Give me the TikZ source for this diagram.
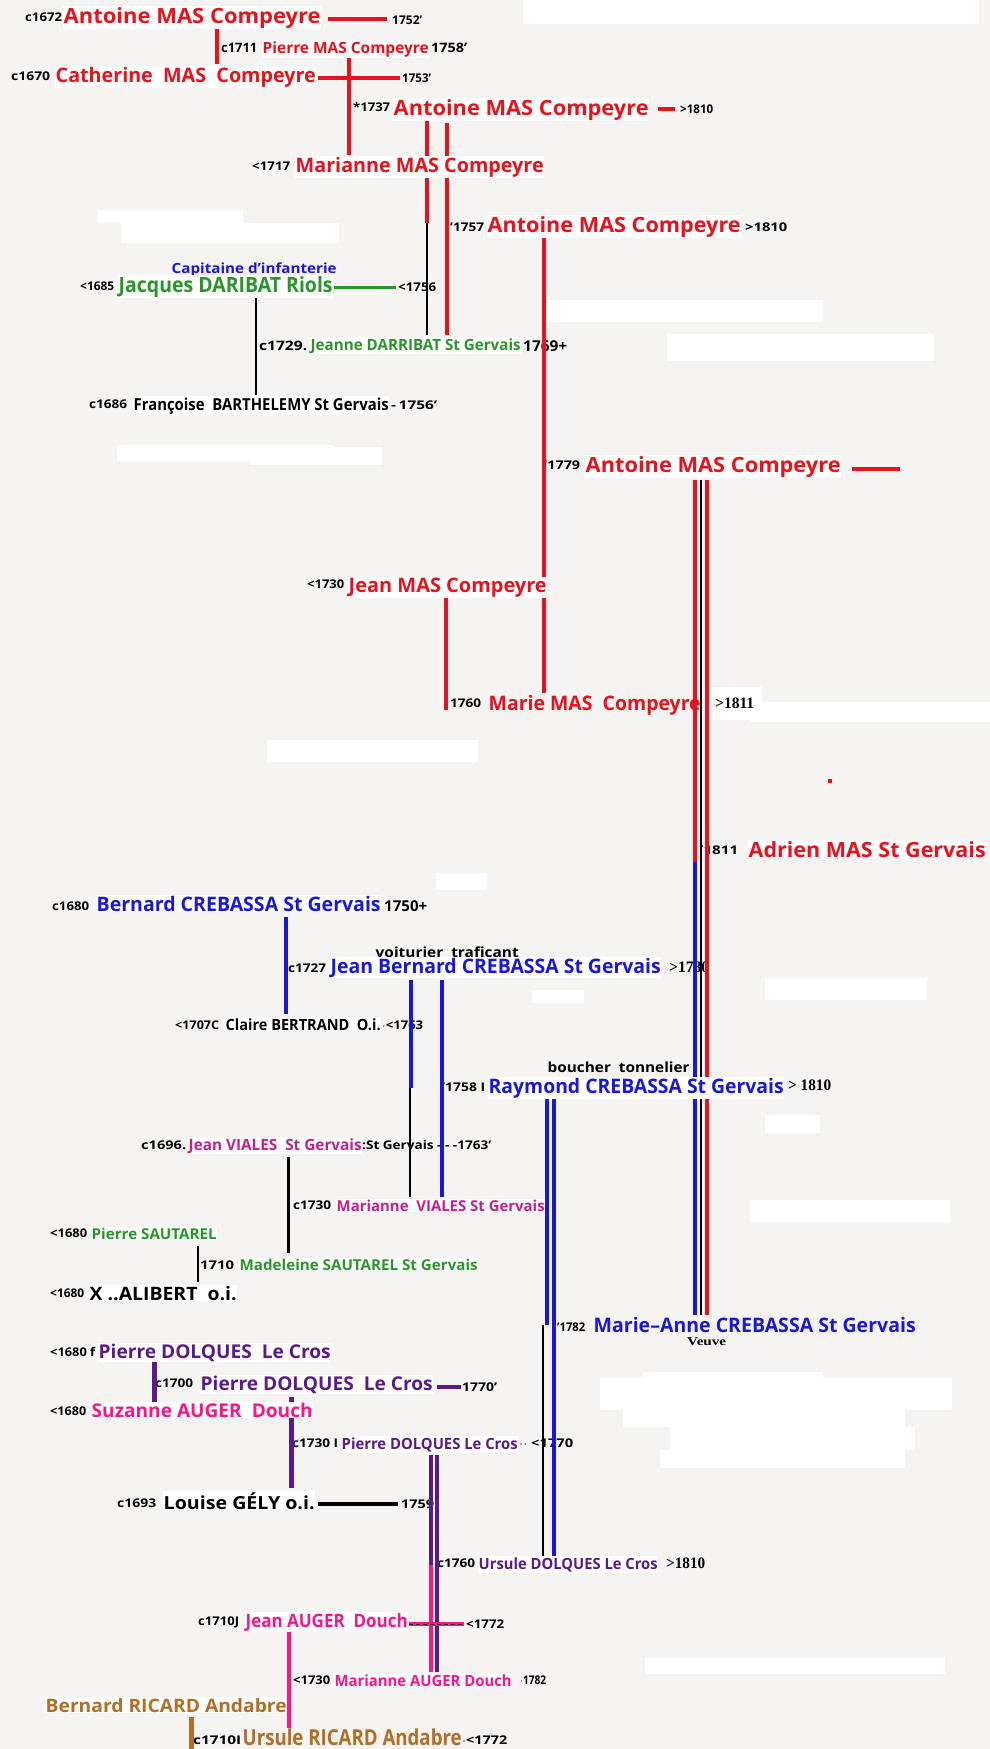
\documentclass[tikz,border=0pt]{standalone}
\usepackage{fontspec}
\usepackage{graphicx}
\setmainfont{Open Sans}
\newfontfamily\serif{Liberation Serif}
\definecolor{cred}{RGB}{232,18,28}
\definecolor{cblue}{RGB}{24,24,220}
\definecolor{cgreen}{RGB}{40,150,40}
\definecolor{cmag}{RGB}{200,30,140}
\definecolor{cpur}{RGB}{90,25,140}
\definecolor{cpink}{RGB}{250,20,135}
\definecolor{cbrown}{RGB}{180,110,35}
\definecolor{bgc}{RGB}{246,243,243}
\tikzset{
  nmst/.style={anchor=base west, inner xsep=0.5pt, inner ysep=1pt, fill=white},
  dtst/.style={anchor=west, inner sep=0pt, text=black},
  redl/.style={draw=cred, line width=4pt},
  redm/.style={draw=cred, line width=3.5pt},
  blkthin/.style={draw=black, line width=1.3pt},
  blkl/.style={draw=black, line width=2.5pt},
  bluel/.style={draw=cblue, line width=4.5pt},
  purl/.style={draw=cpur, line width=5pt},
  pinkl/.style={draw=cpink, line width=3.5pt},
  greenl/.style={draw=cgreen, line width=3pt},
  brownl/.style={draw=cbrown, line width=5pt},
}
% name node: name, x, baseline, width, size, options, text
\newcommand\NM[7]{\node[nmst,#6,font=\fontsize{#5}{#5}\selectfont\bfseries] (#1) at (#2,#3) {\resizebox{#4pt}{\height}{#7}};}
% date node: name, x, centre y, width, size, text
\newcommand\DT[6]{\node[dtst,font=\fontsize{#5}{#5}\selectfont\bfseries] (#1) at (#2,#3) {\resizebox{#4pt}{\height}{#6}};}
\newcommand\SR[6]{\node[dtst,font=\fontsize{#5}{#5}\serif\bfseries] (#1) at (#2,#3) {\resizebox{#4pt}{\height}{#6}};}
% vertical line: name, style, x, y1, y2
\newcommand\VL[5]{\coordinate (#1a) at (#3,#4); \coordinate (#1b) at (#3,#5); \draw[#2] (#1a) -- (#1b);}
% horizontal line: name, style, y, x1, x2
\newcommand\HL[5]{\coordinate (#1a) at (#4,#3); \coordinate (#1b) at (#5,#3); \draw[#2] (#1a) -- (#1b);}
\begin{document}
\begin{tikzpicture}[x=1pt,y=-1pt]
\useasboundingbox (0,0) rectangle (990,1749);
\fill[bgc] (0,0) rectangle (990,1749);
% white patches of the scan
\foreach \a/\b/\c/\d in {523/0/979/24, 98/210/243/223, 121/223/339/243, 545/300/823/322,
  667/334/934/361, 117/445/334/461, 250/447/382/465, 267/740/478/762, 712/687/762/720,
  750/702/990/722, 436/873/487/890, 765/978/927/1000, 532/990/584/1003, 765/1115/820/1133,
  750/1200/950/1223, 643/1372/822/1387, 600/1377/952/1410, 623/1410/905/1427,
  670/1427/915/1450, 660/1450/905/1468, 645/1657/945/1674}
  \fill[white] (\a,\b) rectangle (\c,\d);
\fill[cred] (828,779) rectangle (832,783);

% ---------- dates ----------
\DT{d1}{25}{17}{37}{12}{c1672}
\DT{d2}{392}{20}{30}{12}{1752'}
\DT{d3}{221}{48}{36}{13}{c1711}
\DT{d4}{431}{48}{36}{13}{1758'}
\DT{d5}{11}{76}{39}{12}{c1670}
\DT{d6}{402}{78}{29}{12}{1753'}
\DT{d7}{353}{107}{37}{12}{*1737}
\DT{d8}{680}{109}{33}{12}{>1810}
\DT{d9}{252}{166}{38}{12}{<1717}
\DT{d10}{450}{227}{34}{12}{'1757}
\DT{d11}{745}{227}{42}{12}{>1810}
\DT{d12}{80}{286}{34}{12}{<1685}
\DT{d13}{398}{287}{38}{12}{<1756}
\DT{d14}{259}{346}{48}{13}{c1729.}
\DT{d15}{523}{346}{44}{15}{1769+}
\DT{d16}{89}{404}{38}{12}{c1686}
\DT{d17}{391}{405}{46}{12}{-\,1756'}
\DT{d18}{544}{465}{36}{12}{'1779}
\DT{d19}{307}{584}{37}{12}{<1730}
\DT{d20}{450}{703}{31}{12}{1760}
\SR{d21}{715}{703}{39}{16}{>1811}
\DT{d22}{700}{850}{38}{12}{'1811}
\DT{d23}{52}{906}{37}{12}{c1680}
\DT{d24}{384}{906}{43}{15}{1750+}
\DT{d25}{288}{968}{38}{12}{c1727}
\SR{d26}{669}{967}{40}{16}{>1780}
\DT{d27}{175}{1025}{44}{12}{<1707C}
\DT{d28}{382}{1025}{41}{12}{$\cdot$<1763}
\DT{d29}{442}{1087}{43}{12}{'1758 I}
\SR{d30}{788}{1085}{43}{16}{> 1810}
\DT{d31}{141}{1145}{45}{12}{c1696.}
\DT{d32}{362}{1145}{129}{12}{:St Gervais - - -1763'}
\DT{d33}{293}{1205}{38}{12}{c1730}
\DT{d34}{50}{1233}{37}{12}{<1680}
\DT{d35}{200}{1265}{34}{12}{1710}
\DT{d36}{50}{1293}{34}{12}{<1680}
\DT{d53}{557}{1327}{28}{12}{'1782}
\DT{d37}{50}{1352}{45}{12}{<1680 f}
\DT{d38}{155}{1383}{38}{12}{c1700}
\DT{d39}{462}{1387}{35}{12}{1770'}
\DT{d40}{50}{1411}{36}{12}{<1680}
\DT{d41}{292}{1443}{46}{12}{c1730 I}
\DT{d42}{519}{1443}{54}{12}{$\cdot\cdot$ <1770}
\DT{d43}{117}{1503}{39}{12}{c1693}
\DT{d44}{401}{1504}{33}{12}{1759}
\DT{d45}{437}{1563}{38}{12}{c1760}
\SR{d46}{666}{1563}{39}{16}{>1810}
\DT{d47}{198}{1622}{41}{12}{c1710J}
\DT{d48}{466}{1624}{38}{12}{<1772}
\DT{d49}{293}{1680}{37}{12}{<1730}
\DT{d50}{520}{1680}{26}{12}{$\cdot$1782}
\DT{d51}{193}{1740}{48}{12}{c1710I}
\DT{d52}{462}{1740}{45}{12}{$\cdot$<1772}

% ---------- connectors ----------
\HL{h1}{redm}{19}{328}{387}
\VL{v1}{redl}{217}{29}{64}
\HL{h2}{redm}{78}{318}{400}
\VL{v2}{redm}{349}{58}{155}
\HL{h3}{redl}{109}{658}{675}
\VL{v3}{redm}{427}{115}{223}
\VL{v3b}{blkthin}{427}{223}{335}
\VL{v4}{redm}{447}{123}{335}
\VL{v5}{redm}{544}{238}{693}
\HL{h4}{greenl}{287}{334}{396}
\VL{v6}{blkl}{256}{295}{395}
\HL{h5}{redl}{469}{852}{900}
\VL{v7}{redm}{695}{480}{862}
\VL{v7b}{bluel}{695}{862}{1315}
\VL{v8}{blkthin}{701}{480}{1315}
\VL{v9}{redm}{707}{480}{1315}
\VL{v10}{redm}{446}{597}{710}
\VL{v11}{bluel}{286}{917}{1014}
\VL{v12}{bluel}{411}{980}{1088}
\VL{v12b}{blkthin}{410}{1088}{1197}
\VL{v13}{bluel}{442}{980}{1197}
\VL{v14}{bluel}{547}{1097}{1325}
\VL{v14b}{blkthin}{543}{1325}{1557}
\VL{v15}{bluel}{554}{1097}{1557}
\VL{v16}{blkl}{288.5}{1157}{1253}
\VL{v17}{blkl}{198}{1246}{1282}
\VL{v18}{purl}{154}{1362}{1402}
\HL{h6}{draw=cpur,line width=3.5pt}{1387}{437}{461}
\VL{v19}{purl}{291}{1397}{1488}
\HL{h7}{draw=black,line width=4pt}{1504}{318}{398}
\VL{v20}{draw=cpur,line width=4pt}{431}{1455}{1565}
\VL{v20b}{draw=cpink,line width=4pt}{431}{1565}{1672}
\VL{v21}{draw=cpur,line width=4pt}{437}{1455}{1672}
\HL{h8}{pinkl}{1624}{409}{464}
\draw[black,line width=1pt,dash pattern=on 4pt off 3pt] (h8a) -- (h8b);
\VL{v22}{pinkl}{289}{1632}{1728}
\VL{v23}{brownl}{191}{1717}{1749}

% ---------- names ----------
\NM{n1}{63}{23}{257}{21}{text=cred}{Antoine MAS Compeyre}
\NM{n2}{262}{53}{166}{15.5}{text=cred}{Pierre MAS Compeyre}
\NM{n3}{55}{82}{260}{20}{text=cred}{Catherine\ \ MAS\ \ Compeyre}
\NM{n4}{393}{115}{255}{21}{text=cred}{Antoine MAS Compeyre}
\NM{n5}{295}{172}{248}{20}{text=cred}{Marianne MAS Compeyre}
\NM{n6}{487}{232}{253}{21}{text=cred}{Antoine MAS Compeyre}
\NM{cap}{171}{273}{165}{14}{text=cblue,fill=none}{Capitaine d'infanterie}
\NM{n7}{118}{292}{214}{21}{text=cgreen}{Jacques DARIBAT Riols}
\NM{n8}{310}{350}{210}{15.5}{text=cgreen}{Jeanne DARRIBAT St Gervais}
\NM{n9}{133}{410}{255}{16.5}{text=black}{Françoise\ \ BARTHELEMY St Gervais}
\NM{n10}{585}{472}{255}{21}{text=cred}{Antoine MAS Compeyre}
\NM{n11}{348}{592}{198}{20}{text=cred}{Jean MAS Compeyre}
\NM{n12}{488}{710}{212}{20}{text=cred,fill=none}{Marie MAS\ \ Compeyre}
\NM{n13}{748}{857}{237}{21}{text=cred}{Adrien MAS St Gervais}
\NM{n14}{96}{911}{284}{20}{text=cblue}{Bernard CREBASSA St Gervais}
\NM{voit}{375}{957}{143}{14}{text=black,fill=none}{voiturier\ \ traficant}
\NM{n15}{330}{973}{330}{20}{text=cblue}{Jean Bernard CREBASSA St Gervais}
\NM{n16}{225}{1030}{155}{15.5}{text=black}{Claire BERTRAND\ \ O.i.}
\NM{bouch}{547}{1072}{142}{14}{text=black,fill=none}{boucher\ \ tonnelier}
\NM{n17}{488}{1093}{295}{20}{text=cblue}{Raymond CREBASSA St Gervais}
\NM{n18}{188}{1150}{173}{15.5}{text=cmag}{Jean VIALES\ \ St Gervais}
\NM{n19}{336}{1211}{208}{15}{text=cmag}{Marianne\ \ VIALES St Gervais}
\NM{n20}{91}{1239}{125}{15}{text=cgreen}{Pierre SAUTAREL}
\NM{n21}{239}{1270}{238}{15}{text=cgreen}{Madeleine SAUTAREL St Gervais}
\NM{n22}{89}{1300}{147}{18.5}{text=black}{X ..ALIBERT\ \ o.i.}
\NM{n33}{593}{1332}{322}{20}{text=cblue,fill=none,inner ysep=0pt}{Marie–Anne CREBASSA St Gervais}
\node[anchor=base west,inner sep=0pt,font=\fontsize{12}{12}\serif\bfseries] (veuve) at (687,1345) {\resizebox{39pt}{\height}{Veuve}};
\NM{n23}{98}{1358}{232}{19}{text=cpur}{Pierre DOLQUES\ \ Le Cros}
\NM{n24}{200}{1390}{232}{19}{text=cpur}{Pierre DOLQUES\ \ Le Cros}
\NM{n25}{91}{1417}{221}{19}{text=cpink}{Suzanne AUGER\ \ Douch}
\NM{n26}{341}{1449}{176}{15.5}{text=cpur}{Pierre DOLQUES Le Cros}
\NM{n27}{163}{1509}{151}{18}{text=black}{Louise GÉLY o.i.}
\NM{n28}{478}{1569}{179}{15.5}{text=cpur}{Ursule DOLQUES Le Cros}
\NM{n29}{245}{1627}{162}{18.5}{text=cpink}{Jean AUGER\ \ Douch}
\NM{n30}{334}{1686}{177}{15.5}{text=cpink}{Marianne AUGER Douch}
\NM{n31}{45}{1712}{241}{18.5}{text=cbrown}{Bernard RICARD Andabre}
\NM{n32}{242}{1745}{219}{22}{text=cbrown,fill=none,inner ysep=0pt}{Ursule RICARD Andabre}
\end{tikzpicture}
\end{document}
